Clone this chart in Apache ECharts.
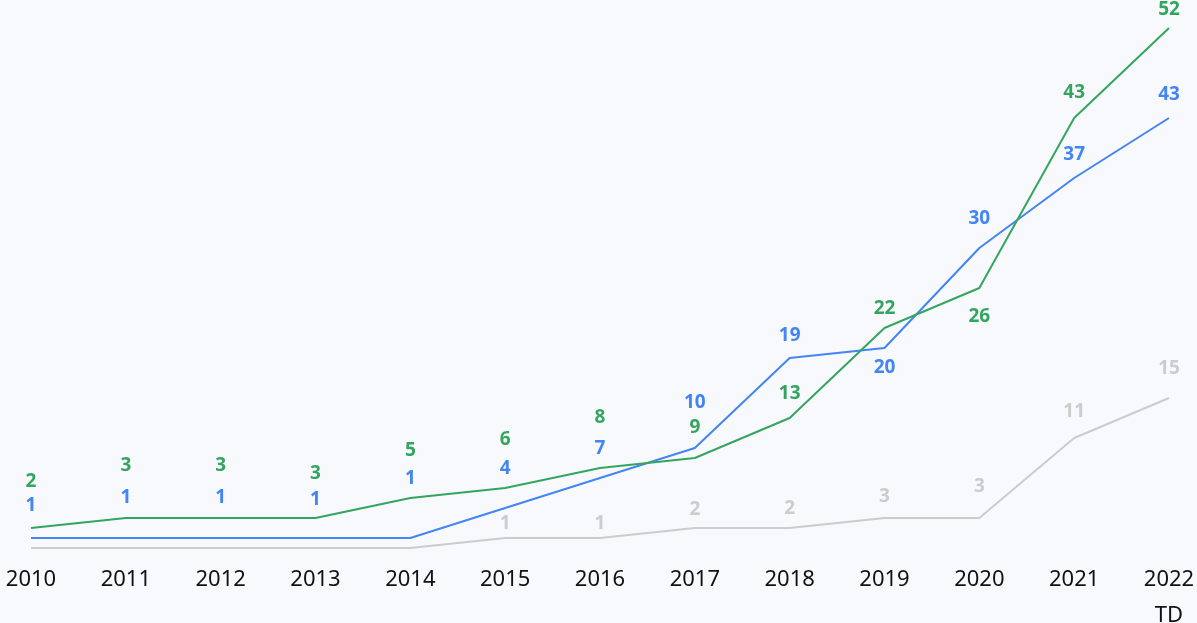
<!DOCTYPE html>
<html>
<head>
<meta charset="utf-8">
<script src="https://cdn.jsdelivr.net/npm/echarts@6/dist/echarts.min.js"></script>
<style>
  html, body { margin: 0; padding: 0; background: #f8f9fd; }
  #chart { width: 1197px; height: 623px; }
</style>
</head>
<body>
<div id="chart"></div>
<script>
// Yearly counts per series
const categories = ['2010', '2011', '2012', '2013', '2014', '2015', '2016', '2017', '2018', '2019', '2020', '2021', '2022\nTD'];
const greenValues = [2, 3, 3, 3, 5, 6, 8, 9, 13, 22, 26, 43, 52];
const blueValues  = [1, 1, 1, 1, 1, 4, 7, 10, 19, 20, 30, 37, 43];
const grayValues  = [0, 0, 0, 0, 0, 1, 1, 2, 2, 3, 3, 11, 15];

// Vertical label offsets (px, negative = above the point) to keep labels apart
const greenLabelShift = [-46, -52, -52, -44, -47, -48, -50, -30, -24, -19, 29, -25, -18];
const blueLabelShift  = [-32, -40, -40, -38, -59, -39, -29, -45, -22, 20, -29, -23, -23];
const grayLabelShift  = [0, 0, 0, 0, 0, -14, -14, -18, -19, -21, -31, -26, -29];

const COLORS = { green: '#34a55f', blue: '#4285f4', gray: '#cccccc' };

function buildSeries(name, values, shifts, color, z) {
  return {
    name: name,
    type: 'line',
    symbol: 'circle',
    symbolSize: 1,
    showSymbol: true,
    itemStyle: { color: 'rgba(0,0,0,0)' },
    lineStyle: { color: color, width: 2 },
    z: z,
    label: {
      show: true,
      position: 'inside',
      color: color,
      fontFamily: 'Noto Sans',
      fontWeight: 'bold',
      fontSize: 19,
      formatter: (p) => (p.value === 0 ? '' : String(p.value))
    },
    data: values,
    emphasis: { disabled: true },
    labelLayout: (p) => ({ dy: shifts[p.dataIndex], hideOverlap: false })
  };
}

const chart = echarts.init(document.getElementById('chart'), null, { renderer: 'canvas' });
chart.setOption({
  backgroundColor: '#f8f9fd',
  animation: false,
  grid: { left: 31, right: 28, top: 8, bottom: 75, outerBoundsMode: 'none', containLabel: false },
  xAxis: {
    type: 'category',
    data: categories,
    boundaryGap: false,
    axisLine: { show: false },
    axisTick: { show: false },
    axisLabel: {
      color: '#111111',
      fontFamily: 'Noto Sans',
      fontSize: 22,
      lineHeight: 36,
      margin: 14,
      interval: 0
    }
  },
  yAxis: {
    type: 'value',
    min: 0,
    max: 54,
    show: false,
    splitLine: { show: false }
  },
  series: [
    buildSeries('gray', grayValues, grayLabelShift, COLORS.gray, 1),
    buildSeries('blue', blueValues, blueLabelShift, COLORS.blue, 2),
    buildSeries('green', greenValues, greenLabelShift, COLORS.green, 3)
  ]
});
</script>
</body>
</html>
